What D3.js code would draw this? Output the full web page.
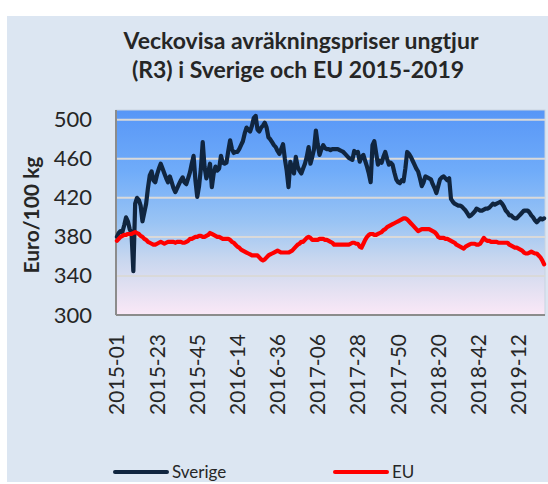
<!DOCTYPE html>
<html>
<head>
<meta charset="utf-8">
<script src="https://cdn.jsdelivr.net/npm/d3@7"></script>
<style>
  body { margin: 0; background: #fff; }
  text { font-family: Lato, "Open Sans", sans-serif; fill: #262626; }
</style>
</head>
<body>
<div id="chart-container"></div>
<script>
/**************************************************
 * Data
 **************************************************/

// weeks per year covered by the chart (2015 has 53 ISO weeks)
const yearWeeks = [[2015, 53], [2016, 52], [2017, 52], [2018, 52], [2019, 26]];

const tickLabels = ["2015-01", "2015-23", "2015-45", "2016-14", "2016-36", "2017-06",
  "2017-28", "2017-50", "2018-20", "2018-42", "2019-12"];

const yTicks = [300, 340, 380, 420, 460, 500];

// Sverige, euro/100 kg, weekly
const sverige = [
  380, 384, 386, 385, 392, 400, 396, 388, 384, 345,
  414, 420, 418, 412, 396, 405, 414, 430, 443, 447,
  438, 436, 444, 450, 455, 450, 445, 440, 436, 442,
  436, 430, 426, 430, 434, 438, 441, 436, 434, 440,
  446, 455, 463, 438, 421, 432, 450, 477, 452, 440,
  446, 455, 431, 445, 452, 448, 450, 463, 456, 455,
  456, 468, 479, 470, 466, 467, 467, 470, 474, 478,
  486, 492, 490, 488, 494, 502, 504, 490, 488, 492,
  494, 497, 492, 482, 480, 477, 474, 472, 468, 465,
  470, 475, 460, 448, 431, 457, 450, 445, 462, 452,
  448, 445, 450, 455, 462, 472, 455, 462, 470, 489,
  475, 464, 470, 474, 471, 470, 470, 469, 470, 470,
  470, 470, 469, 468, 467, 465, 463, 461, 460, 459,
  468, 466, 467, 457, 462, 464, 458, 452, 445, 436,
  474, 478, 466, 454, 458, 456, 462, 467, 460, 454,
  456, 454, 446, 439, 436, 435, 438, 437, 450, 467,
  465, 462, 458, 454, 450, 447, 440, 432, 436, 442,
  441, 440, 439, 434, 430, 425, 432, 439, 441, 442,
  440, 438, 440, 419, 416, 414, 413, 412, 412, 411,
  409, 407, 404, 401, 402, 404, 406, 409, 408, 407,
  407, 408, 409, 409, 410, 412, 414, 413, 414, 415,
  416, 414, 411, 407, 405, 402, 402, 400, 399, 399,
  401, 403, 405, 407, 407, 407, 405, 402, 400, 397,
  395, 397, 399, 398, 399
];

// EU, euro/100 kg, weekly
const eu = [
  376, 378, 380, 381, 382, 382, 383, 383, 383, 384,
  385, 384, 383, 381, 380, 378, 377, 375, 374, 373,
  372, 372, 373, 374, 375, 374, 373, 374, 375, 375,
  375, 375, 374, 375, 375, 375, 374, 374, 375, 376,
  378, 378, 379, 380, 380, 381, 381, 380, 380, 381,
  382, 384, 383, 382, 381, 380, 380, 379, 378, 378,
  378, 378, 377, 375, 374, 372, 370, 369, 367, 366,
  365, 364, 363, 362, 361, 361, 361, 361, 359, 357,
  356, 357, 359, 361, 362, 363, 364, 365, 366, 365,
  364, 364, 364, 364, 364, 365, 366, 368, 370, 372,
  373, 375, 375, 377, 379, 380, 379, 377, 377, 377,
  377, 378, 378, 378, 377, 377, 376, 375, 374, 372,
  372, 372, 372, 372, 372, 372, 372, 372, 373, 374,
  374, 373, 373, 370, 369, 373, 377, 380, 382, 383,
  383, 382, 382, 383, 384, 385, 387, 388, 390, 391,
  392, 393, 394, 395, 396, 397, 398, 399, 399, 398,
  396, 394, 392, 390, 388, 386, 387, 388, 388, 388,
  388, 388, 387, 386, 385, 383, 380, 379, 379, 379,
  378, 378, 377, 376, 375, 374, 372, 371, 370, 369,
  368, 370, 371, 372, 373, 373, 373, 372, 372, 373,
  376, 379, 377, 376, 376, 375, 375, 375, 375, 374,
  374, 374, 374, 374, 374, 372, 371, 370, 369, 369,
  368, 367, 366, 364, 363, 363, 364, 365, 364, 363,
  363, 361, 359, 356, 352
];

const seriesNames = ["Sverige", "EU"];
const seriesColors = ["#10253f", "#ff0000"];

// category labels "YYYY-WW"
const weeks = [];
yearWeeks.forEach(([y, n]) => {
  for (let w = 1; w <= n; w++) weeks.push(y + "-" + String(w).padStart(2, "0"));
});

/**************************************************
 * Rendering
 **************************************************/

const width = 548, height = 484;
const plot = { left: 116, right: 545, top: 110, bottom: 315 };

const svg = d3.select("#chart-container")
  .append("svg")
  .attr("width", width)
  .attr("height", height);

// outer panel
svg.append("rect")
  .attr("x", 7).attr("y", 16)
  .attr("width", width - 7).attr("height", 466)
  .attr("fill", "#dce6f2");

// plot area gradient
const grad = svg.append("defs").append("linearGradient")
  .attr("id", "bg").attr("x1", 0).attr("y1", 0).attr("x2", 0).attr("y2", 1);
[[0, "#5796f7"], [0.3, "#70acf9"], [0.55, "#9ac4f4"], [0.72, "#c6d6ef"], [0.85, "#dfdff1"], [1, "#fbe8f7"]]
  .forEach(([o, c]) => grad.append("stop").attr("offset", o).attr("stop-color", c));

svg.append("rect")
  .attr("x", plot.left).attr("y", plot.top)
  .attr("width", plot.right - plot.left).attr("height", plot.bottom - plot.top)
  .attr("fill", "url(#bg)")
  .attr("stroke", "#c9d3e0").attr("stroke-width", 1);

const xScale = d3.scaleBand()
  .domain(weeks)
  .range([plot.left, plot.right])
  .padding(0);

const yScale = d3.scaleLinear()
  .domain([300, 510])
  .range([plot.bottom, plot.top]);

const xPos = d => xScale(d) + xScale.bandwidth() / 2;

// gridlines
svg.append("g")
  .selectAll("line")
  .data(yTicks.filter(t => t > 300))
  .enter()
  .append("line")
  .attr("x1", plot.left).attr("x2", plot.right)
  .attr("y1", d => yScale(d)).attr("y2", d => yScale(d))
  .attr("stroke", "#d9d9d9")
  .attr("stroke-width", 2);

// y axis
const yAxis = d3.axisLeft(yScale).tickValues(yTicks).tickSize(0).tickPadding(24);
const gy = svg.append("g")
  .attr("transform", `translate(${plot.left},0)`)
  .call(yAxis);
gy.select(".domain").remove();
gy.selectAll("text")
  .attr("font-family", "Lato, sans-serif")
  .attr("font-size", "22px")
  .attr("fill", "#262626");

// x axis
const xAxis = d3.axisBottom(xScale).tickValues(tickLabels).tickSize(0);
const gx = svg.append("g")
  .attr("transform", `translate(0,${plot.bottom})`)
  .call(xAxis);
gx.select(".domain").remove();
gx.selectAll("text")
  .attr("font-family", "Lato, sans-serif")
  .attr("font-size", "21px")
  .attr("fill", "#262626")
  .attr("text-anchor", "end")
  .attr("transform", "rotate(-90)")
  .attr("x", -19)
  .attr("y", 0)
  .attr("dy", "0.36em");

// axis lines
svg.append("line")
  .attr("x1", plot.left).attr("x2", plot.left)
  .attr("y1", plot.top).attr("y2", plot.bottom)
  .attr("stroke", "#8c8c8c").attr("stroke-width", 2);
svg.append("line")
  .attr("x1", plot.left).attr("x2", plot.right)
  .attr("y1", plot.bottom).attr("y2", plot.bottom)
  .attr("stroke", "#8c8c8c").attr("stroke-width", 2);

// series lines
const line = d3.line()
  .x((d, i) => xPos(weeks[i]))
  .y(d => yScale(d));

[sverige, eu].forEach((s, k) => {
  svg.append("path")
    .datum(s)
    .attr("d", line)
    .attr("fill", "none")
    .attr("stroke", seriesColors[k])
    .attr("stroke-width", 4.2)
    .attr("stroke-linejoin", "round")
    .attr("stroke-linecap", "round");
});

// title
svg.append("text")
  .attr("x", 301).attr("y", 49)
  .attr("text-anchor", "middle")
  .attr("font-size", "23px").attr("font-weight", "bold")
  .text("Veckovisa avräkningspriser ungtjur");
svg.append("text")
  .attr("x", 298).attr("y", 78)
  .attr("text-anchor", "middle")
  .attr("font-size", "23px").attr("font-weight", "bold")
  .text("(R3) i Sverige och EU 2015-2019");

// y axis title
svg.append("text")
  .attr("transform", "rotate(-90)")
  .attr("x", -215).attr("y", 39)
  .attr("text-anchor", "middle")
  .attr("font-size", "21px").attr("font-weight", "bold")
  .text("Euro/100 kg");

// legend
const legendX = [115, 335];
seriesNames.forEach((name, k) => {
  svg.append("line")
    .attr("x1", legendX[k]).attr("x2", legendX[k] + 52)
    .attr("y1", 472).attr("y2", 472)
    .attr("stroke", seriesColors[k])
    .attr("stroke-width", 4)
    .attr("stroke-linecap", "round");
  svg.append("text")
    .attr("x", legendX[k] + 57).attr("y", 478)
    .attr("font-size", "17px")
    .text(name);
});
</script>
</body>
</html>
